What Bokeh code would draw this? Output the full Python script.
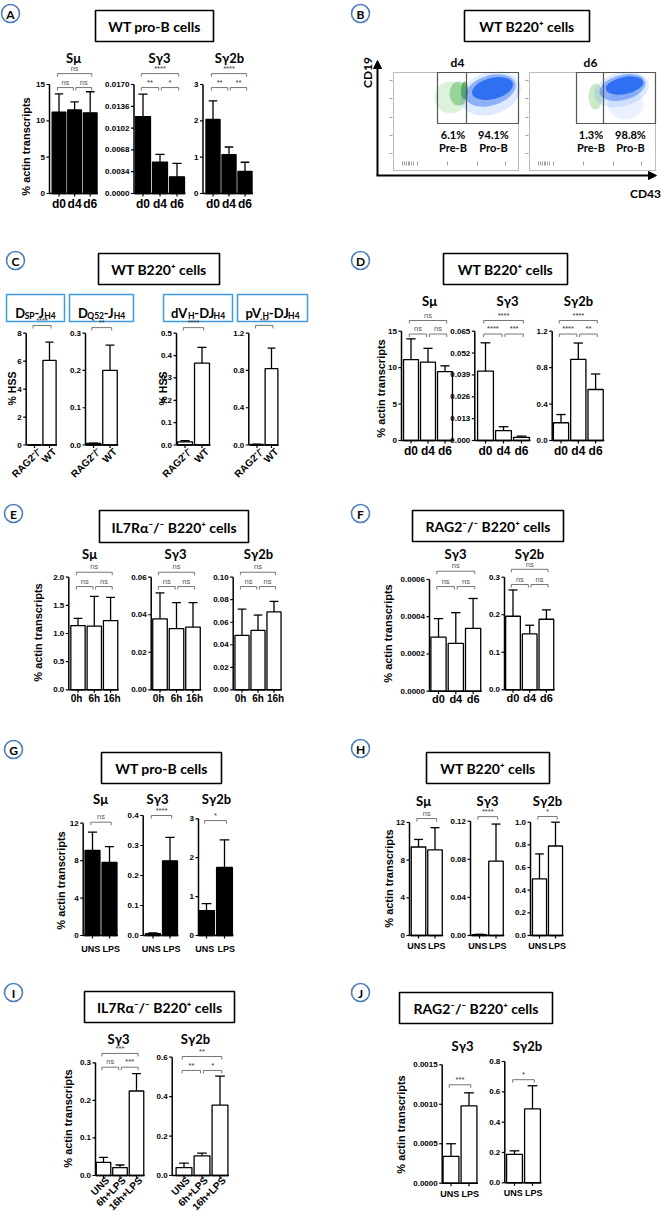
import math
from bokeh.plotting import figure
from bokeh.models import Range1d, Arrow, NormalHead
from bokeh.core.properties import value
from bokeh.embed import file_html
from bokeh.resources import INLINE

# ======================= DATA =======================
DAYS = ["d0", "d4", "d6"]
HOURS = ["0h", "6h", "16h"]
STIM = ["UNS", "LPS"]
STIM3 = ["UNS", "6h+LPS", "16h+LPS"]
GENO = ["RAG2\u207b/\u207b", "WT"]

# A - WT pro-B cells (mean, SD)
A_SMU = [11.2, 11.5, 11.1]
A_SMU_SD = [2.5, 1.1, 2.9]
A_SG3 = [0.0120, 0.0049, 0.0026]
A_SG3_SD = [0.0035, 0.0012, 0.0021]
A_SG2B = [2.04, 1.07, 0.61]
A_SG2B_SD = [0.51, 0.21, 0.25]
A_SMU_SIG = ["ns", "ns", "ns"]
A_SG3_SIG = ["**", "*", "****"]
A_SG2B_SIG = ["**", "**", "****"]

# B - flow cytometry gates (% of cells)
B_DAYS = ["d4", "d6"]
B_PREB = ["6.1%", "1.3%"]
B_PROB = ["94.1%", "98.8%"]

# C - WT B220+ rearrangements (% HSS)
C_DSP = [0.0, 6.05]
C_DSP_SD = [0.0, 1.31]
C_DQ52 = [0.004, 0.200]
C_DQ52_SD = [0.001, 0.068]
C_DVH = [0.014, 0.366]
C_DVH_SD = [0.005, 0.071]
C_PVH = [0.006, 0.82]
C_PVH_SD = [0.002, 0.22]
C_SIG = ["****", "**", "****", "***"]

# D - WT B220+ cells
D_SMU = [11.1, 10.75, 9.45]
D_SMU_SD = [2.85, 1.9, 0.8]
D_SG3 = [0.0413, 0.0059, 0.0019]
D_SG3_SD = [0.0168, 0.0023, 0.0007]
D_SG2B = [0.195, 0.89, 0.56]
D_SG2B_SD = [0.09, 0.18, 0.17]
D_SMU_SIG = ["ns", "ns", "ns"]
D_SG3_SIG = ["****", "***", "****"]
D_SG2B_SIG = ["****", "**", "****"]

# E - IL7Ra-/- B220+ cells
E_SMU = [1.14, 1.13, 1.23]
E_SMU_SD = [0.13, 0.53, 0.41]
E_SG3 = [0.0378, 0.0326, 0.0334]
E_SG3_SD = [0.0138, 0.0138, 0.0130]
E_SG2B = [0.0483, 0.0527, 0.0692]
E_SG2B_SD = [0.0233, 0.0137, 0.0093]
E_SIG = ["ns", "ns", "ns"]

# F - RAG2-/- B220+ cells
F_SG3 = [0.00029, 0.000257, 0.000338]
F_SG3_SD = [0.0001, 0.000165, 0.00016]
F_SG2B = [0.196, 0.149, 0.188]
F_SG2B_SD = [0.07, 0.023, 0.025]
F_SIG = ["ns", "ns", "ns"]

# G - WT pro-B cells, LPS
G_SMU = [9.1, 7.8]
G_SMU_SD = [1.95, 1.7]
G_SG3 = [0.006, 0.249]
G_SG3_SD = [0.003, 0.078]
G_SG2B = [0.64, 1.75]
G_SG2B_SD = [0.18, 0.71]
G_SIG = ["ns", "****", "*"]

# H - WT B220+ cells, LPS
H_SMU = [9.4, 9.1]
H_SMU_SD = [0.8, 2.35]
H_SG3 = [0.0008, 0.078]
H_SG3_SD = [0.0005, 0.039]
H_SG2B = [0.50, 0.79]
H_SG2B_SD = [0.22, 0.21]
H_SIG = ["ns", "****", "*"]

# I - IL7Ra-/- B220+ cells, LPS
I_SG3 = [0.035, 0.021, 0.225]
I_SG3_SD = [0.013, 0.007, 0.046]
I_SG2B = [0.040, 0.100, 0.357]
I_SG2B_SD = [0.023, 0.013, 0.147]
I_SG3_SIG = ["ns", "***", "***"]
I_SG2B_SIG = ["**", "*", "**"]

# J - RAG2-/- B220+ cells, LPS
J_SG3 = [0.00034, 0.00098]
J_SG3_SD = [0.00016, 0.000165]
J_SG2B = [0.188, 0.487]
J_SG2B_SD = [0.023, 0.153]
J_SIG = ["***", "*"]

# tick values / labels
T_15 = [0, 5, 10, 15]; L_15 = ["0", "5", "10", "15"]
T_A3 = [0, 0.0034, 0.0068, 0.0102, 0.0136, 0.0170]
L_A3 = ["0.0000", "0.0034", "0.0068", "0.0102", "0.0136", "0.0170"]
T_3 = [0, 1, 2, 3]; L_3 = ["0", "1", "2", "3"]
T_8 = [0, 2, 4, 6, 8]; L_8 = ["0", "2", "4", "6", "8"]
T_03 = [0, 0.1, 0.2, 0.3]; L_03 = ["0.0", "0.1", "0.2", "0.3"]
T_05 = [0, 0.1, 0.2, 0.3, 0.4, 0.5]; L_05 = ["0.0", "0.1", "0.2", "0.3", "0.4", "0.5"]
T_12 = [0, 0.4, 0.8, 1.2]; L_12 = ["0.0", "0.4", "0.8", "1.2"]
T_D3 = [0, 0.013, 0.026, 0.039, 0.052, 0.065]
L_D3 = ["0.000", "0.013", "0.026", "0.039", "0.052", "0.065"]
T_20 = [0, 0.5, 1.0, 1.5, 2.0]; L_20 = ["0.0", "0.5", "1.0", "1.5", "2.0"]
T_006 = [0, 0.02, 0.04, 0.06]; L_006 = ["0.00", "0.02", "0.04", "0.06"]
T_010 = [0, 0.02, 0.04, 0.06, 0.08, 0.10]; L_010 = ["0.00", "0.02", "0.04", "0.06", "0.08", "0.10"]
T_F3 = [0, 0.0002, 0.0004, 0.0006]; L_F3 = ["0.0000", "0.0002", "0.0004", "0.0006"]
T_12i = [0, 4, 8, 12]; L_12i = ["0", "4", "8", "12"]
T_04 = [0, 0.1, 0.2, 0.3, 0.4]; L_04 = ["0.0", "0.1", "0.2", "0.3", "0.4"]
T_H3 = [0, 0.04, 0.08, 0.12]; L_H3 = ["0.00", "0.04", "0.08", "0.12"]
T_10 = [0, 0.2, 0.4, 0.6, 0.8, 1.0]; L_10 = ["0.0", "0.2", "0.4", "0.6", "0.8", "1.0"]
T_06 = [0, 0.2, 0.4, 0.6]; L_06 = ["0.0", "0.2", "0.4", "0.6"]
T_J3 = [0, 0.0005, 0.0010, 0.0015]; L_J3 = ["0.0000", "0.0005", "0.0010", "0.0015"]
T_08 = [0, 0.2, 0.4, 0.6, 0.8]; L_08 = ["0.0", "0.2", "0.4", "0.6", "0.8"]

# ======================= FIGURE =======================
F_AX = value("Liberation Sans")
F_T = value("Lato")

W, H = 661, 1212
p = figure(width=W, height=H, x_range=Range1d(0, W), y_range=Range1d(H, 0),
           x_axis_location=None, y_axis_location=None, toolbar_location=None,
           output_backend="svg", min_border=0)
p.outline_line_color = None
p.grid.visible = False
p.background_fill_color = "white"


def geo(axis, c0, pitch, zero, top, ymax, lvls):
    return dict(axis=axis, c0=c0, pitch=pitch, zero=zero, top=top, ymax=ymax, lvls=lvls)


def chart(g, cats, means, sds, ticks, tlabels, sig, fill, xl="h", xl_size=12, xl_dy=10,
          xl_spread=0.0, rdx=5, rdy=5):
    n = len(cats)
    left = g["c0"] - g["pitch"] / 2
    sub = p.subplot(x_source=Range1d(0, n), y_source=Range1d(0, g["ymax"]),
                    x_target=Range1d(left, left + n * g["pitch"]),
                    y_target=Range1d(g["zero"], g["top"]))
    ux = 1.0 / g["pitch"]
    uy = g["ymax"] / (g["zero"] - g["top"])
    ax = (g["axis"] - left) * ux
    xs = [i + 0.5 for i in range(n)]
    sub.vbar(x=xs, width=0.88, top=means, bottom=0, fill_color=fill,
             line_color="black", line_width=1.3)
    tops = [m + s for m, s in zip(means, sds)]
    sub.segment(x0=xs, y0=means, x1=xs, y1=tops, line_color="black", line_width=1.3)
    sub.segment(x0=[x - 0.27 for x in xs], y0=tops, x1=[x + 0.27 for x in xs], y1=tops,
                line_color="black", line_width=1.3)
    # axes
    sub.segment(x0=[ax], y0=[0], x1=[ax], y1=[g["ymax"]], line_color="black", line_width=1.5)
    sub.segment(x0=[ax], y0=[0], x1=[n], y1=[0], line_color="black", line_width=1.5)
    tl = 3 * ux
    k = len(ticks)
    sub.segment(x0=[ax - tl] * k, y0=ticks, x1=[ax] * k, y1=ticks, line_color="black", line_width=1.2)
    sub.text(x=[ax - tl - 1.5 * ux] * k, y=ticks, text=tlabels, text_align="right",
             text_baseline="middle", text_font=F_AX, text_font_style="bold",
             text_font_size="8px", text_color="black")
    sub.segment(x0=xs, y0=[0] * n, x1=xs, y1=[-3 * uy] * n, line_color="black", line_width=1.2)
    # category labels
    if xl == "h":
        lx = [x + (i - (n - 1) / 2) * xl_spread * ux for i, x in enumerate(xs)]
        sub.text(x=lx, y=[-xl_dy * uy] * n, text=cats, text_align="center", text_baseline="middle",
                 text_font=F_AX, text_font_style="bold", text_font_size=f"{xl_size}px",
                 text_color="black")
    else:
        sub.text(x=[x + rdx * ux for x in xs], y=[-rdy * uy] * n, text=cats, angle=math.pi / 4,
                 text_align="right", text_baseline="middle", text_font=F_AX,
                 text_font_style="bold", text_font_size=f"{xl_size}px", text_color="black")
    # significance brackets
    pairs = [(0, 1)] if n == 2 else [(0, 1), (1, 2), (0, 2)]
    for (i, j), lab, lvl in zip(pairs, sig, g["lvls"]):
        xa = xs[i] - 0.1 if i == 0 else xs[i] + 0.08
        xb = xs[j] + 0.1 if j == n - 1 else xs[j] - 0.08
        y = lvl * g["ymax"]
        d = 3 * uy
        sub.multi_line(xs=[[xa, xa, xb, xb]], ys=[[y - d, y, y, y - d]], line_color="#666",
                       line_width=0.9)
        sub.text(x=[(xa + xb) / 2], y=[y + 0.8 * uy], text=[lab], text_align="center",
                 text_baseline="bottom", text_font=F_AX, text_font_size="7.5px",
                 text_color="#555" if lab == "ns" else "#333")
    return sub


def title_box(l, r, t, b, txt, size=14):
    p.quad(left=[l], right=[r], top=[t], bottom=[b], fill_color="white",
           line_color="black", line_width=1.6)
    p.text(x=[(l + r) / 2], y=[(t + b) / 2 + 0.5], text=[txt], text_align="center",
           text_baseline="middle", text_font=F_T, text_font_style="bold",
           text_font_size=f"{size}px", text_color="black")


def letter(x, y, s):
    p.scatter(x=[x], y=[y], marker="circle", size=18, fill_color="white",
              line_color="#4f7fb8", line_width=1.6)
    p.text(x=[x], y=[y + 0.5], text=[s], text_align="center", text_baseline="middle",
           text_font=F_T, text_font_style="bold", text_font_size="12px", text_color="black")


def subtitle(x, y, s):
    p.text(x=[x], y=[y], text=[s], text_align="center", text_baseline="middle",
           text_font=F_T, text_font_style="bold", text_font_size="13px", text_color="black")


def ylabel(x, y, s, size=11):
    p.text(x=[x], y=[y], text=[s], angle=math.pi / 2, text_align="center",
           text_baseline="middle", text_font=F_AX, text_font_style="bold",
           text_font_size=f"{size}px", text_color="black")


YL = "% actin transcripts"

# ---------------- Panel A ----------------
letter(10, 13, "A")
title_box(95, 213, 10, 41, "WT pro-B cells")
subtitle(73, 57, "S\u03bc"); subtitle(159, 57, "S\u03b33"); subtitle(229, 57, "S\u03b32b")
ylabel(25, 146, YL)
lvA = [0.972, 0.972, 1.10]
chart(geo(49, 58.5, 15.6, 193, 84, 15, lvA), DAYS, A_SMU, A_SMU_SD, T_15, L_15, A_SMU_SIG, "black")
chart(geo(133.5, 142.5, 17, 193, 84, 0.017, lvA), DAYS, A_SG3, A_SG3_SD, T_A3, L_A3, A_SG3_SIG, "black")
chart(geo(202.5, 212.5, 16, 193, 84, 3, lvA), DAYS, A_SG2B, A_SG2B_SD, T_3, L_3, A_SG2B_SIG, "black")

# ---------------- Panel B ----------------
letter(360, 13, "B")
title_box(464, 589, 10, 41, "WT B220\u207a cells")
p.add_layout(Arrow(end=NormalHead(size=8, fill_color="black", line_color="black"),
                   x_start=377, y_start=175, x_end=377, y_end=60, line_width=2))
p.add_layout(Arrow(end=NormalHead(size=8, fill_color="black", line_color="black"),
                   x_start=376, y_start=175, x_end=656, y_end=175, line_width=2))
p.text(x=[367], y=[72], text=["CD19"], angle=math.pi / 2, text_align="center",
       text_baseline="middle", text_font=F_T, text_font_style="bold", text_font_size="12px")
p.text(x=[645], y=[193], text=["CD43"], text_align="center", text_baseline="middle",
       text_font=F_T, text_font_style="bold", text_font_size="12px")

FLOW = [  # frame l, r, gate l, divider, label x
    dict(l=393, r=518, gl=437, div=466, lx=457),
    dict(l=529, r=655, gl=576, div=603, lx=590),
]
CLOUDS = [
    [(450, 97, 32, 32, 0.0, "#66c266", 0.22), (458, 93, 18, 24, 0.0, "#33a833", 0.4),
     (464, 90, 7, 18, 0.0, "#1e8f1e", 0.6),
     (490, 93, 62, 42, 0.3, "#5b95ff", 0.2), (490, 90, 52, 30, 0.3, "#2a6bf2", 0.45),
     (492, 88, 42, 21, 0.25, "#1f64f0", 0.85)],
    [(595, 96, 14, 26, 0.0, "#66c266", 0.35),
     (625, 104, 36, 30, 0.0, "#5b95ff", 0.12),
     (621, 89, 56, 34, 0.25, "#5b95ff", 0.2), (622, 87, 47, 25, 0.25, "#2a6bf2", 0.45),
     (624, 85, 38, 17, 0.2, "#1f64f0", 0.85)],
]
for k, f in enumerate(FLOW):
    p.quad(left=[f["l"]], right=[f["r"]], top=[72], bottom=[170], fill_color=None,
           line_color="#aaaaaa", line_width=0.8)
    for (cx, cy, w, h, a, c, al) in CLOUDS[k]:
        p.ellipse(x=[cx], y=[cy], width=[w], height=[h], angle=[a], fill_color=c,
                  fill_alpha=al, line_color=None)
    p.quad(left=[f["gl"]], right=[f["r"]], top=[72], bottom=[123], fill_color=None,
           line_color="#555555", line_width=1.2)
    p.segment(x0=[f["div"]], y0=[72], x1=[f["div"]], y1=[123], line_color="#555555", line_width=1.2)
    p.text(x=[f["lx"]], y=[62], text=[B_DAYS[k]], text_align="center", text_baseline="middle",
           text_font=F_T, text_font_style="bold", text_font_size="12px")
    xm = (f["gl"] + f["div"]) / 2 + 1
    xp = (f["div"] + f["r"]) / 2 + 1
    p.text(x=[xm, xp], y=[134, 134], text=[B_PREB[k], B_PROB[k]], text_align="center",
           text_baseline="middle", text_font=F_T, text_font_style="bold", text_font_size="11px")
    p.text(x=[xm, xp], y=[147, 147], text=["Pre-B", "Pro-B"], text_align="center",
           text_baseline="middle", text_font=F_T, text_font_style="bold", text_font_size="11px")
    # axis tick marks of the cytometry plots
    lt = [80, 98, 117, 135, 153]
    p.segment(x0=[f["l"] - 4] * 5, y0=lt, x1=[f["l"] - 1] * 5, y1=lt, line_color="#888", line_width=0.8)
    off = f["l"] - 393
    bt = [v + off for v in [402, 404, 406, 408, 409, 411, 413, 417, 447, 477, 505]]
    p.segment(x0=bt, y0=[161] * len(bt), x1=bt, y1=[165] * len(bt), line_color="#888", line_width=0.8)

# ---------------- Panel C ----------------
letter(15, 260, "C")
title_box(98, 219, 253, 284, "WT B220\u207a cells")
BOXES = [(6, 64), (69, 133), (163, 232), (237, 307)]
PIECES = [
    [("D", 13, 0), ("SP", 8.5, 3), ("-J", 13, 0), ("H4", 8.5, 3)],
    [("D", 13, 0), ("Q52", 8.5, 3), ("-J", 13, 0), ("H4", 8.5, 3)],
    [("dV", 13, 0), ("H", 8.5, 3), ("-DJ", 13, 0), ("H4", 8.5, 3)],
    [("pV", 13, 0), ("H", 8.5, 3), ("-DJ", 13, 0), ("H4", 8.5, 3)],
]
CW = {"D": 0.72, "S": 0.52, "P": 0.62, "Q": 0.78, "H": 0.76, "J": 0.40, "-": 0.36,
      "d": 0.60, "p": 0.60, "V": 0.70, "4": 0.58, "5": 0.58, "2": 0.58}
for (l, r), pcs in zip(BOXES, PIECES):
    p.quad(left=[l], right=[r], top=[294], bottom=[321], fill_color="white",
           line_color="#3d9be0", line_width=1.5)
    widths = [sum(CW.get(ch, 0.6) for ch in s) * sz for s, sz, _ in pcs]
    x = (l + r) / 2 - sum(widths) / 2
    for (s, sz, dy), w in zip(pcs, widths):
        p.text(x=[x], y=[312 + dy], text=[s], text_align="left", text_baseline="alphabetic",
               text_font=F_T, text_font_style="bold", text_font_size=f"{sz}px")
        x += w
ylabel(11, 388, "% HSS", 10.5)
ylabel(162, 388, "% HSS", 10.5)
chart(geo(25.7, 34, 15, 444.5, 332.7, 8, [1.069]), GENO, C_DSP, C_DSP_SD, T_8, L_8, C_SIG[0:1], "white", xl="r", xl_size=10)
chart(geo(85, 93, 16.5, 444.5, 332.7, 0.3, [1.05]), GENO, C_DQ52, C_DQ52_SD, T_03, L_03, C_SIG[1:2], "white", xl="r", xl_size=10)
chart(geo(176, 184.5, 17, 444.5, 332.7, 0.5, [1.05]), GENO, C_DVH, C_DVH_SD, T_05, L_05, C_SIG[2:3], "white", xl="r", xl_size=10)
chart(geo(248.3, 256.5, 14.5, 444.5, 332.7, 1.2, [1.07]), GENO, C_PVH, C_PVH_SD, T_12, L_12, C_SIG[3:4], "white", xl="r", xl_size=10)

# ---------------- Panel D ----------------
letter(360, 260, "D")
title_box(443, 567, 253, 284, "WT B220\u207a cells")
subtitle(429, 300, "S\u03bc"); subtitle(507, 300, "S\u03b33"); subtitle(578, 300, "S\u03b32b")
ylabel(380, 388, YL)
lvD = [0.974, 0.974, 1.098]
chart(geo(401, 410.5, 17, 440, 330.7, 15, lvD), DAYS, D_SMU, D_SMU_SD, T_15, L_15, D_SMU_SIG, "white")
chart(geo(474.3, 485, 18, 440, 330.7, 0.065, lvD), DAYS, D_SG3, D_SG3_SD, T_D3, L_D3, D_SG3_SIG, "white")
chart(geo(551.7, 560.5, 17.3, 440, 330.7, 1.2, lvD), DAYS, D_SG2B, D_SG2B_SD, T_12, L_12, D_SG2B_SIG, "white")

# ---------------- Panel E ----------------
letter(13, 513, "E")
title_box(99, 248, 510, 542, "IL7R\u03b1\u207b/\u207b B220\u207a cells")
subtitle(89, 553, "S\u03bc"); subtitle(175, 553, "S\u03b33"); subtitle(258, 553, "S\u03b32b")
ylabel(37, 632, YL)
lvE = [0.917, 0.917, 1.044]
chart(geo(68.3, 77.5, 16.3, 689.3, 576.7, 2.0, lvE), HOURS, E_SMU, E_SMU_SD, T_20, L_20, E_SIG, "white", xl_size=10, xl_dy=8.5, xl_spread=1.5)
chart(geo(150.7, 159.5, 16.5, 689.3, 576.7, 0.06, lvE), HOURS, E_SG3, E_SG3_SD, T_006, L_006, E_SIG, "white", xl_size=10, xl_dy=8.5, xl_spread=1.5)
chart(geo(232.7, 241.5, 16, 689.3, 576.7, 0.10, lvE), HOURS, E_SG2B, E_SG2B_SD, T_010, L_010, E_SIG, "white", xl_size=10, xl_dy=8.5, xl_spread=1.5)

# ---------------- Panel F ----------------
letter(360, 513, "F")
title_box(412, 563, 510, 541, "RAG2\u207b/\u207b B220\u207a cells")
subtitle(455, 553, "S\u03b33"); subtitle(529, 553, "S\u03b32b")
ylabel(387, 633, YL)
chart(geo(429, 438, 17.3, 690.7, 579, 0.0006, [0.937, 0.937, 1.074]), DAYS, F_SG3, F_SG3_SD, T_F3, L_F3, F_SIG, "white", xl_size=11, xl_dy=8)
chart(geo(504, 512.5, 16.7, 689.3, 576.7, 0.3, [0.935, 0.935, 1.07]), DAYS, F_SG2B, F_SG2B_SD, T_03, L_03, F_SIG, "white", xl_size=11, xl_dy=8.5)

# ---------------- Panel G ----------------
letter(13, 749, "G")
title_box(101, 221, 752, 783, "WT pro-B cells")
subtitle(100, 798, "S\u03bc"); subtitle(157, 798, "S\u03b33"); subtitle(216, 798, "S\u03b32b")
ylabel(60, 880, YL)
chart(geo(82.7, 92, 17, 935, 822.7, 12, [1.009]), STIM, G_SMU, G_SMU_SD, T_12i, L_12i, G_SIG[0:1], "black", xl_size=9, xl_dy=13, xl_spread=3.5)
chart(geo(142.7, 152.5, 17, 935, 815, 0.4, [1.0]), STIM, G_SG3, G_SG3_SD, T_04, L_04, G_SIG[1:2], "black", xl_size=9, xl_dy=13, xl_spread=3.5)
chart(geo(198, 206, 18, 935, 818.3, 3, [0.985]), STIM, G_SG2B, G_SG2B_SD, T_3, L_3, G_SIG[2:3], "black", xl_size=9, xl_dy=13, xl_spread=3.5)

# ---------------- Panel H ----------------
letter(360, 748, "H")
title_box(426, 549, 752, 783, "WT B220\u207a cells")
subtitle(423, 800, "S\u03bc"); subtitle(487, 800, "S\u03b33"); subtitle(547, 800, "S\u03b32b")
ylabel(388, 878, YL)
chart(geo(409, 418, 16.5, 935, 822, 12, [1.035]), STIM, H_SMU, H_SMU_SD, T_12i, L_12i, H_SIG[0:1], "white", xl_size=9, xl_dy=10.5, xl_spread=3.5)
chart(geo(470, 479, 16.5, 935, 820.7, 0.12, [1.04]), STIM, H_SG3, H_SG3_SD, T_H3, L_H3, H_SIG[1:2], "white", xl_size=9, xl_dy=10.5, xl_spread=3.5)
chart(geo(530, 539, 16, 935, 821.7, 1.0, [1.05]), STIM, H_SG2B, H_SG2B_SD, T_10, L_10, H_SIG[2:3], "white", xl_size=9, xl_dy=10.5, xl_spread=3.5)

# ---------------- Panel I ----------------
letter(13, 992, "I")
title_box(84, 234, 991, 1022, "IL7R\u03b1\u207b/\u207b B220\u207a cells")
subtitle(118, 1038, "S\u03b33"); subtitle(195, 1038, "S\u03b32b")
ylabel(67, 1118, YL)
chart(geo(95, 103, 16.5, 1175, 1062.3, 0.3, [0.961, 0.961, 1.083]), STIM3, I_SG3, I_SG3_SD, T_03, L_03, I_SG3_SIG, "white", xl="r", xl_size=10, rdx=4, rdy=3)
chart(geo(171.7, 183.5, 18, 1175, 1056.7, 0.6, [0.888, 0.888, 1.006]), STIM3, I_SG2B, I_SG2B_SD, T_06, L_06, I_SG2B_SIG, "white", xl="r", xl_size=10, rdx=4, rdy=3)

# ---------------- Panel J ----------------
letter(360, 992, "J")
title_box(399, 552, 992, 1023, "RAG2\u207b/\u207b B220\u207a cells")
subtitle(462, 1045, "S\u03b33"); subtitle(527, 1045, "S\u03b32b")
ylabel(400, 1124, YL)
chart(geo(441.7, 450.5, 18, 1182.7, 1064.3, 0.0015, [0.831]), STIM, J_SG3, J_SG3_SD, T_J3, L_J3, J_SIG[0:1], "white", xl_size=9, xl_dy=10.5, xl_spread=2.5)
chart(geo(504.3, 514, 18, 1182.3, 1061, 0.8, [0.85]), STIM, J_SG2B, J_SG2B_SD, T_08, L_08, J_SIG[1:2], "white", xl_size=9, xl_dy=10.5, xl_spread=2.5)

open("out.html", "w").write(file_html(p, INLINE))
